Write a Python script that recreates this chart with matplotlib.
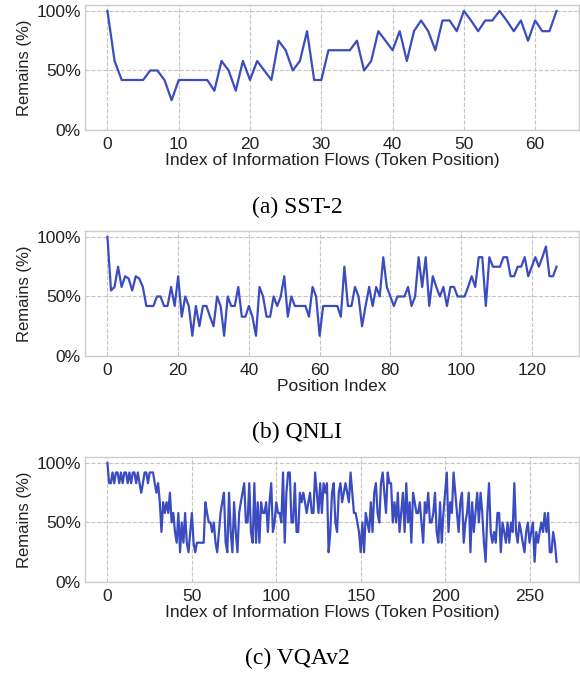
import matplotlib
matplotlib.use("Agg")
import matplotlib.pyplot as plt
import numpy as np

plt.rcParams['font.family'] = ['Liberation Sans', 'DejaVu Sans']

# remaining flows (%) per position
sst2_remains = [100, 58, 42, 42, 42, 42, 50, 50, 42, 25,
                42, 42, 42, 42, 42, 33, 58, 50, 33, 58,
                42, 58, 50, 42, 75, 67, 50, 58, 83, 42,
                42, 67, 67, 67, 67, 75, 50, 58, 83, 75,
                67, 83, 58, 83, 92, 83, 67, 92, 92, 83,
                100, 92, 83, 92, 92, 100, 92, 83, 92, 75,
                92, 83, 83, 100]

qnli_remains = [100, 55, 58, 75, 58, 67, 65, 55, 67, 65,
                58, 42, 42, 42, 50, 50, 42, 42, 58, 42,
                67, 33, 50, 42, 17, 42, 25, 42, 42, 33,
                25, 50, 42, 17, 50, 42, 42, 58, 33, 33,
                42, 33, 17, 58, 50, 33, 33, 50, 42, 50,
                67, 33, 50, 42, 42, 42, 42, 33, 58, 50,
                17, 42, 42, 42, 42, 42, 33, 75, 42, 42,
                58, 50, 25, 42, 58, 42, 58, 50, 83, 58,
                50, 42, 50, 50, 50, 58, 42, 50, 83, 58,
                83, 42, 67, 58, 50, 58, 42, 58, 58, 50,
                50, 50, 58, 67, 58, 83, 83, 42, 83, 75,
                75, 75, 83, 83, 67, 67, 75, 75, 83, 67,
                75, 83, 75, 83, 92, 67, 67, 75]

vqa_remains = [100, 83, 83, 92, 83, 92, 92, 83, 92, 83,
               92, 92, 83, 92, 83, 92, 92, 83, 92, 83,
               75, 83, 92, 92, 83, 92, 92, 92, 83, 75,
               83, 67, 42, 67, 58, 67, 58, 75, 50, 58,
               42, 33, 58, 25, 50, 33, 58, 33, 25, 42,
               58, 33, 25, 33, 33, 33, 33, 33, 67, 58,
               50, 50, 42, 50, 33, 25, 42, 58, 67, 75,
               33, 25, 75, 42, 25, 67, 42, 25, 58, 67,
               75, 83, 50, 50, 83, 42, 33, 83, 33, 67,
               33, 67, 58, 58, 67, 42, 67, 83, 42, 50,
               67, 58, 58, 50, 92, 33, 75, 92, 92, 50,
               50, 83, 42, 42, 75, 67, 75, 67, 58, 67,
               75, 58, 58, 92, 75, 58, 83, 58, 83, 75,
               83, 25, 42, 75, 83, 50, 42, 75, 83, 67,
               75, 83, 75, 67, 92, 75, 58, 58, 50, 42,
               25, 50, 25, 58, 50, 42, 67, 42, 75, 83,
               58, 50, 83, 92, 75, 58, 92, 83, 83, 50,
               67, 50, 75, 42, 58, 75, 42, 83, 50, 67,
               33, 75, 67, 58, 58, 67, 50, 33, 67, 58,
               75, 50, 50, 58, 75, 42, 33, 67, 33, 58,
               75, 92, 42, 67, 58, 92, 75, 58, 42, 67,
               75, 33, 50, 58, 75, 25, 67, 42, 58, 75,
               50, 75, 58, 33, 17, 58, 83, 42, 33, 42,
               33, 58, 58, 25, 50, 42, 33, 50, 33, 50,
               42, 83, 42, 33, 50, 42, 33, 25, 42, 50,
               33, 42, 50, 17, 42, 33, 42, 50, 42, 58,
               42, 58, 25, 25, 42, 33, 17]

panels = [
    (sst2_remains, 'Index of Information Flows (Token Position)', [0, 10, 20, 30, 40, 50, 60], '(a) SST-2'),
    (qnli_remains, 'Position Index', [0, 20, 40, 60, 80, 100, 120], '(b) QNLI'),
    (vqa_remains, 'Index of Information Flows (Token Position)', [0, 50, 100, 150, 200, 250], '(c) VQAv2'),
]

W, H = 580, 673
fig = plt.figure(figsize=(W / 100, H / 100), dpi=100)

ax_tops = [5, 231, 457]      # pixel rows of axes top
cap_y = [207, 432, 658]      # caption centers
ax_h = 125

for (vals, xlabel, xticks, caption), top, cy in zip(panels, ax_tops, cap_y):
    ax = fig.add_axes([85 / W, 1 - (top + ax_h) / H, 494 / W, ax_h / H])
    x = np.arange(len(vals))
    ax.plot(x, vals, color='#3b4cc0', linewidth=1.6, zorder=3)
    ax.set_ylim(0, 105)
    ax.set_yticks([0, 50, 100])
    ax.set_yticklabels(['0%', '50%', '100%'])
    ax.set_xticks(xticks)
    ax.grid(True, linestyle='--', color='#c4c4c4', linewidth=0.8)
    for s in ax.spines.values():
        s.set_color('#cccccc')
        s.set_linewidth(1.0)
    ax.tick_params(length=0, labelsize=12.5, colors='#222222')
    ax.tick_params(axis='x', pad=5)
    ax.tick_params(axis='y', pad=3)
    ax.set_xlabel(xlabel, fontsize=12.5, color='#222222', labelpad=1)
    ax.set_ylabel('Remains (%)', fontsize=12, color='#222222', labelpad=3)
    fig.text(297 / W, 1 - cy / H, caption, ha='center', va='center',
             fontsize=17, family=['Liberation Serif', 'DejaVu Serif'])

fig.savefig('out.png', dpi=100)
